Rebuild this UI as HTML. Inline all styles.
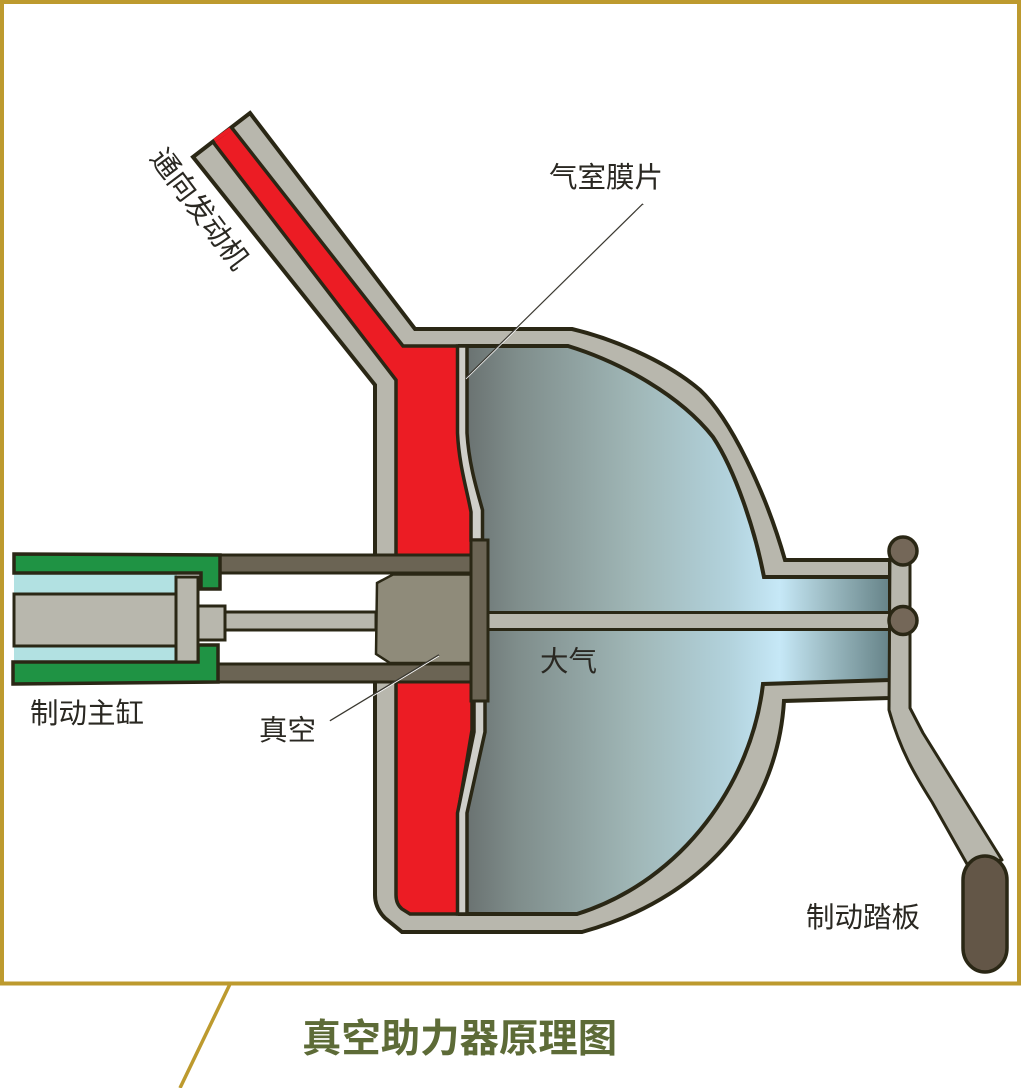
<!DOCTYPE html>
<html>
<head>
<meta charset="utf-8">
<style>
html,body{margin:0;padding:0;background:#fff;width:1021px;height:1088px;overflow:hidden}
svg{display:block}
text{font-family:"Liberation Sans","Noto Sans CJK SC",sans-serif;fill:#2a2822}
</style>
</head>
<body>
<svg width="1021" height="1088" viewBox="0 0 1021 1088" xmlns="http://www.w3.org/2000/svg">
<defs>
<linearGradient id="g" gradientUnits="userSpaceOnUse" x1="466" y1="0" x2="890" y2="0">
<stop offset="0" stop-color="#6a7271"/>
<stop offset="0.12" stop-color="#7f8d8b"/>
<stop offset="0.4" stop-color="#a0b7b7"/>
<stop offset="0.62" stop-color="#b2d2dc"/>
<stop offset="0.74" stop-color="#c6e8f7"/>
<stop offset="0.85" stop-color="#9dbcc4"/>
<stop offset="1" stop-color="#668388"/>
</linearGradient>
</defs>
<rect width="1021" height="1088" fill="#fff"/>

<!-- frame -->
<rect x="2" y="2" width="1017" height="981.500" fill="none" stroke="#bd9a2e" stroke-width="4"/>
<path d="M230 984L180 1088" fill="none" stroke="#bd9a2e" stroke-width="3.500"/>

<!-- outer shell -->
<path d="M250 113L415 329H572C610 338 665 360 700 390C730 418 765 490 785 560H890V698L784 701C778 800 715 895 582 932H402L385 918Q375 908 375 895V385L193 157Z" fill="#b8b7ad" stroke="#2a2715" stroke-width="4" stroke-linejoin="miter"/>

<!-- chamber -->
<path d="M460 346H568C620 362 680 395 713 437C735 470 755 530 764 577H890V680L763 684C752 780 685 880 577 914H460Z" fill="url(#g)" stroke="#2a2715" stroke-width="4"/>

<!-- red vacuum -->
<path d="M213 142L232 128L403 346H460V433C463 465 470 490 472 510V730L458 813V914H410L402 909Q396 904 396 895V380Z" fill="#ec1c24" stroke="#2a2715" stroke-width="3.500"/>
<path d="M214.500 140.500L230.500 129" stroke="#ec1c24" stroke-width="4" fill="none"/>

<!-- diaphragm -->
<path d="M457.500 346H467V433C469 465 477 490 482.500 510V540H471V512C467 490 459 465 457.500 433Z" fill="#cfcfc9" stroke="#2a2715" stroke-width="3.500"/>
<path d="M474 700H485V732L467 813V914H457.500V813L474 732Z" fill="#cfcfc9" stroke="#2a2715" stroke-width="3.500"/>

<!-- main rod -->
<rect x="486" y="612.500" width="405" height="17" fill="#b8b7ad" stroke="#2a2715" stroke-width="3"/>

<!-- white gap between rods -->
<rect x="222" y="573" width="174" height="91" fill="#fff"/>

<!-- cylinder -->
<rect x="14" y="574" width="163" height="88" fill="#b2e1e2"/>
<rect x="14" y="594" width="163" height="52" fill="#b8b7ad" stroke="#2a2715" stroke-width="3"/>

<!-- rods -->
<rect x="220" y="555" width="252" height="18" fill="#6b6454" stroke="#2a2715" stroke-width="3"/>
<rect x="218" y="664" width="254" height="18" fill="#6b6454" stroke="#2a2715" stroke-width="3"/>

<!-- vacuum block -->
<path d="M377 583L393 574.500H471V663H390L376 654Z" fill="#8f8b7a" stroke="#2a2715" stroke-width="2.500"/>
<rect x="222" y="612" width="154" height="18" fill="#b8b7ad" stroke="#2a2715" stroke-width="3"/>

<!-- green housing -->
<path d="M14 554L220 555V589H201V573H14Z" fill="#1f9344" stroke="#2a2715" stroke-width="3.500"/>
<path d="M13 684L218 682V645H198V662H13Z" fill="#1f9344" stroke="#2a2715" stroke-width="3.500"/>

<!-- piston -->
<rect x="198" y="606" width="27" height="34" fill="#b8b7ad" stroke="#2a2715" stroke-width="3"/>
<rect x="176" y="577" width="22" height="85" fill="#b8b7ad" stroke="#2a2715" stroke-width="3"/>

<!-- plate -->
<rect x="471" y="540" width="17" height="161" fill="#6b6454" stroke="#2a2715" stroke-width="3"/>

<!-- pedal lever -->
<path d="M890 551H910V708L923 733L1002 860L967 864L932 802C915 775 900 750 889 710Z" fill="#b8b7ad" stroke="#2a2715" stroke-width="3" stroke-linejoin="round"/>
<rect x="963" y="856" width="44" height="116" rx="22" ry="24" fill="#635647" stroke="#2a2715" stroke-width="3.500"/>
<circle cx="903" cy="551" r="14" fill="#746758" stroke="#2a2715" stroke-width="3.500"/>
<circle cx="903" cy="620.500" r="14" fill="#746758" stroke="#2a2715" stroke-width="3.500"/>

<!-- leaders -->
<path d="M643 204L466 378" stroke="#3a3830" stroke-width="1.800" fill="none"/>
<path d="M643 205L466 379" stroke="#fff" stroke-width="0.800" fill="none"/>
<path d="M439 655L330 721" stroke="#3a3830" stroke-width="1.800" fill="none"/>
<path d="M439 656L330 722" stroke="#fff" stroke-width="0.800" fill="none"/>

<!-- labels -->
<text x="549" y="187" font-size="28.500">气室膜片</text>
<text x="540" y="671" font-size="28.500">大气</text>
<text x="30" y="723" font-size="28.500">制动主缸</text>
<text x="259" y="740" font-size="28.500">真空</text>
<text x="806" y="927" font-size="28.500">制动踏板</text>
<text transform="translate(149 158) rotate(53)" font-size="28.500">通向发动机</text>
<text x="302" y="1052" font-size="39.400" font-weight="700" style="fill:#5d6b37">真空助力器原理图</text>
</svg>
</body>
</html>
